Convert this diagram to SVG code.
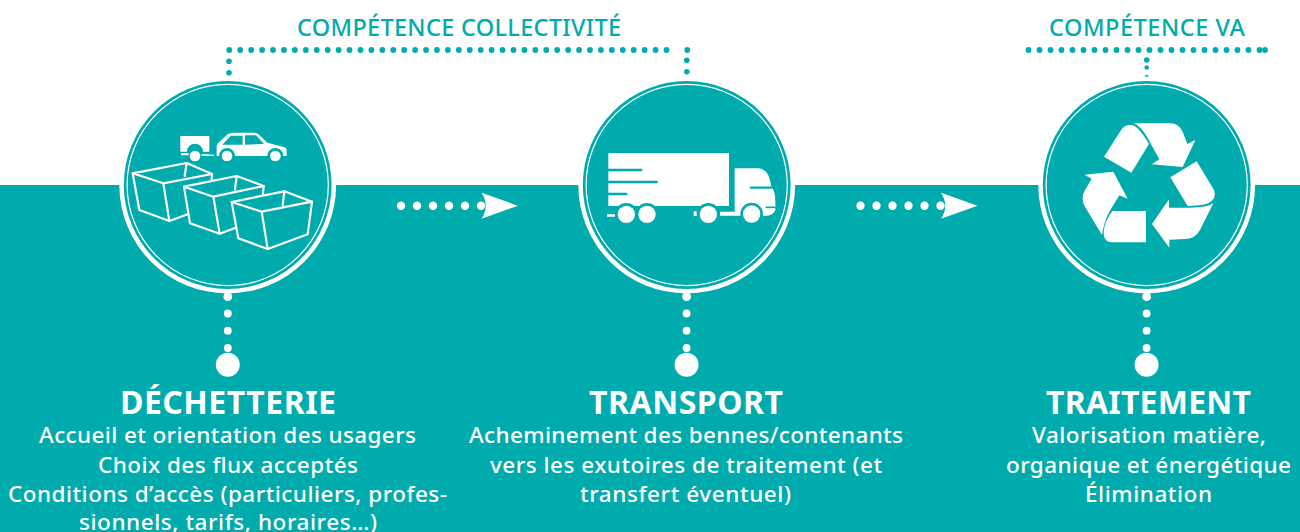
<svg xmlns="http://www.w3.org/2000/svg" width="1300" height="532" viewBox="0 0 1300 532">
<defs>
<style>
text{font-family:"Noto Sans","Open Sans","Liberation Sans",sans-serif}
.b{font-size:22.5px;fill:#fff;font-weight:500}
.t{font-size:32px;fill:#fff;font-weight:700}
.c{font-size:23.5px;fill:#00abae;font-weight:500}
.box{fill:#00abae;stroke:#fff;stroke-width:6.5;stroke-linejoin:round;stroke-linecap:round}
.w{fill:#fff}.k{fill:#00abae}
.tl{stroke:#00abae;fill:none}
</style>
<g id="disc"><circle r="108.4" fill="#fff"/><circle r="103.9" fill="#00abae"/><circle r="100.6" fill="none" stroke="#fff" stroke-width="1.2"/></g>
<g id="arrow"><circle cx="401" cy="205.7" r="4.2"/><circle cx="417" cy="205.7" r="4.2"/><circle cx="433" cy="205.7" r="4.2"/><circle cx="449" cy="205.7" r="4.2"/><circle cx="465" cy="205.7" r="4.2"/><circle cx="481" cy="205.7" r="4.2"/><path d="M481.5 192.7L518 205.7L481.5 218.7Q490 205.7 481.5 192.7Z"/></g>
<g id="stem"><circle cy="296.7" r="4.4"/><circle cy="313.5" r="3.9"/><circle cy="330.7" r="3.9"/><circle cy="348" r="3.9"/><circle cy="364.7" r="12"/></g>
</defs>
<rect width="1300" height="532" fill="#fff"/>
<rect y="185" width="1300" height="347" fill="#00abae"/>

<g id="connectors">
<g fill="#00abae" id="bracket-collectivite">
<path d="M229.3 50H677" stroke="#00abae" stroke-width="5.8" stroke-linecap="round" stroke-dasharray="0 10.93" fill="none"/>
<circle cx="687.3" cy="50" r="2.9"/>
<circle cx="229" cy="61.3" r="2.8"/><circle cx="229" cy="72.8" r="2.8"/><circle cx="686.8" cy="60.3" r="2.8"/><circle cx="686.8" cy="71.7" r="2.8"/>
</g>
<g fill="#00abae" id="bracket-va">
<path d="M1028.5 50H1260" stroke="#00abae" stroke-width="5.8" stroke-linecap="round" stroke-dasharray="0 11" fill="none"/>
<circle cx="1265" cy="50" r="2.9"/><circle cx="1146.7" cy="60" r="2.8"/><circle cx="1146.7" cy="67.5" r="2.3"/><path d="M1144.4 77L1145.5 75H1148L1149 77Z"/>
</g>
<use href="#arrow" fill="#fff"/>
<use href="#arrow" x="459.5" fill="#fff"/>
</g>

<g id="node-decheterie">
<use href="#disc" x="227.7" y="185"/>
<use href="#stem" x="227.8" fill="#fff"/>
<g transform="translate(110 70) scale(.33333)">
<path class="w" d="M211 198H298V245H279A24 24 0 0 0 231 245H211Z"/>
<path class="w" d="M213 250H236V256H213ZM275 252L312 254V258L275 258Z"/>
<circle class="w" cx="255" cy="258" r="16"/>
<path class="w" d="M320 228L322 221L353 193Q360 188 370 188L430 188Q440 188 446 193L472 218L524 232Q530 234 530 242V258H520A24 24 0 0 0 472 258H375A24 24 0 0 0 327 258H320Z"/>
<path class="k" d="M337 224L362 197H398V224ZM405 196H438L462 222L405 224Z"/>
<circle class="w" cx="351" cy="258" r="16"/><circle class="w" cx="496" cy="258" r="16"/>
<path class="box" d="M68 310L88 420L178 453L300 408L306 312L230 279Z"/>
<path class="box" d="M68 310L160 340L306 312M160 340L178 453M230 279L224 318" fill="none"/>
<path class="box" d="M222 350L240 460L329 491L452 445L461 348L380 318Z"/>
<path class="box" d="M222 350L310 380L461 348M310 380L329 491M380 318L375 358" fill="none"/>
<path class="box" d="M365 396L385 505L473 537L593 493L606 395L523 364Z"/>
<path class="box" d="M365 396L455 425L606 395M455 425L473 537M523 364L518 405" fill="none"/>
</g>
<text class="t" x="120" y="414" textLength="216">DÉCHETTERIE</text>
<text class="b" x="39" y="443" textLength="377">Accueil et orientation des usagers</text>
<text class="b" x="98" y="472.5" textLength="260">Choix des flux acceptés</text>
<text class="b" x="8" y="501.5" textLength="439">Conditions d’accès (particuliers, profes-</text>
<text class="b" x="79" y="530" textLength="298">sionnels, tarifs, horaires…)</text>
</g>

<g id="node-transport">
<use href="#disc" x="686.7" y="185"/>
<use href="#stem" x="686.6" fill="#fff"/>
<g transform="translate(570 70) scale(.33333)">
<rect class="w" x="115" y="249" width="362" height="159"/>
<g class="tl" stroke-width="7" stroke-linecap="round"><path d="M115 300H214M115 336H260M115 372H169"/></g>
<circle class="k" cx="169" cy="433" r="34"/><circle class="k" cx="231" cy="433" r="34"/><circle class="k" cx="415" cy="433" r="34"/>
<circle class="w" cx="169" cy="433" r="26"/><circle class="w" cx="231" cy="433" r="26"/><circle class="w" cx="415" cy="433" r="26"/>
<path class="w" d="M494 295H565Q588 297 597 320L605 352Q616 365 616 395V420Q610 436 590 437H450V425H494Z"/>
<circle class="k" cx="545" cy="432" r="34"/><circle class="w" cx="545" cy="432" r="26"/>
<path class="tl" stroke-width="7" stroke-linecap="round" d="M543 353H605"/>
<path class="tl" stroke-width="5" d="M587 412H616"/>
<path class="w" d="M111 433H135V440H111ZM371 424H380V438H371Z"/>
</g>
<text class="t" x="589" y="414" textLength="194">TRANSPORT</text>
<text class="b" x="469" y="443" textLength="434">Acheminement des bennes/contenants</text>
<text class="b" x="490" y="472.5" textLength="392">vers les exutoires de traitement (et</text>
<text class="b" x="580" y="501.5" textLength="211">transfert éventuel)</text>
</g>

<g id="node-traitement">
<use href="#disc" x="1146.7" y="185"/>
<use href="#stem" x="1146.6" fill="#fff"/>
<g class="w" transform="translate(1030 70) scale(.33333)">
<path d="M222 260L275 178Q285 163 305 165Q325 167 357 222L304 308Z"/>
<path d="M312 160H420Q445 160 458 185L472 222L496 210L458 291L365 283L388 268L355 208Q335 170 312 160Z"/>
<path d="M421 322L500 274L552 360Q562 385 535 400Q510 408 473 408Z"/>
<path d="M550 400L510 480Q495 507 465 507L418 509V533L366 462L417 388V413L480 413Q530 413 550 400Z"/>
<path d="M348 423V517H245Q222 517 221 490Q222 455 247 423Z"/>
<path d="M163 314L250 305L293 386L268 376L238 425Q222 455 216 495L165 410Q150 385 165 360L185 326Z"/>
</g>
<text class="t" x="1046" y="414" textLength="205">TRAITEMENT</text>
<text class="b" x="1032" y="443" textLength="234">Valorisation matière,</text>
<text class="b" x="1006" y="472.5" textLength="285">organique et énergétique</text>
<text class="b" x="1085" y="501.5" textLength="127">Élimination</text>
</g>

<g id="labels">
<text class="c" x="297" y="36" textLength="324">COMPÉTENCE COLLECTIVITÉ</text>
<text class="c" x="1049" y="36" textLength="196">COMPÉTENCE VA</text>
</g>
</svg>
